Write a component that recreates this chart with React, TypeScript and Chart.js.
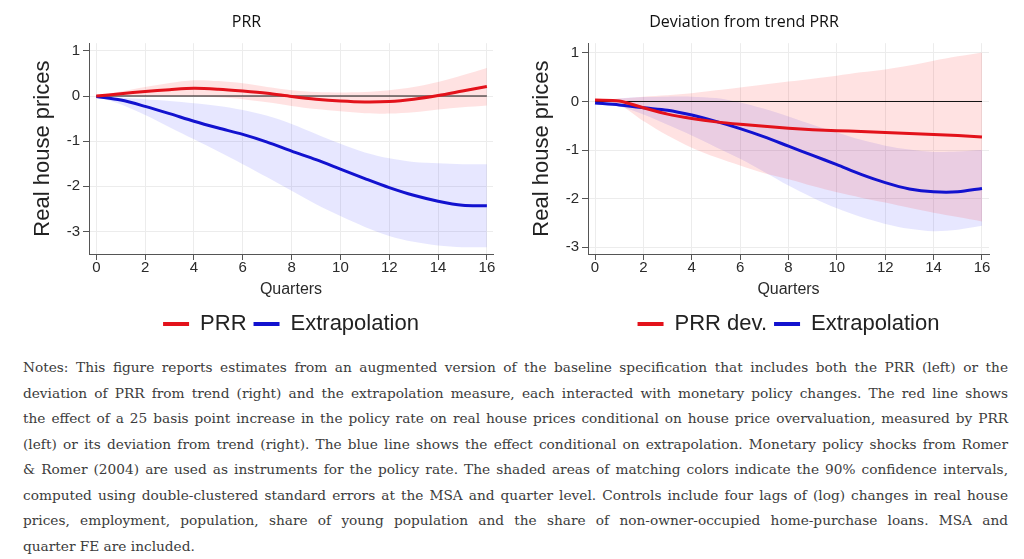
import React, { useEffect, useRef } from 'react';
import Chart from 'chart.js/auto';

// --- Data ---
const quarters = [0, 1, 2, 3, 4, 5, 6, 7, 8, 9, 10, 11, 12, 13, 14, 15, 16];
const xTicks = [0, 2, 4, 6, 8, 10, 12, 14, 16];
const yTicks = [1, 0, -1, -2, -3];
const baselineX = [0, 16];
const baselineY = [0, 0];

// left panel: PRR
const prrLine = [0.0, 0.05, 0.1, 0.14, 0.17, 0.15, 0.11, 0.06, -0.01, -0.07, -0.11, -0.13, -0.12, -0.07, 0.01, 0.11, 0.21];
const prrUpper = [0.01, 0.1, 0.2, 0.29, 0.35, 0.33, 0.28, 0.2, 0.13, 0.09, 0.08, 0.09, 0.13, 0.2, 0.31, 0.46, 0.62];
const prrLower = [-0.01, 0.0, -0.01, -0.01, -0.01, -0.03, -0.07, -0.14, -0.22, -0.29, -0.34, -0.38, -0.39, -0.36, -0.3, -0.25, -0.21];
const extraLine = [-0.01, -0.09, -0.23, -0.39, -0.56, -0.71, -0.85, -1.02, -1.22, -1.41, -1.62, -1.83, -2.03, -2.2, -2.33, -2.42, -2.43];
const extraUpper = [-0.01, -0.04, -0.07, -0.11, -0.16, -0.22, -0.31, -0.44, -0.62, -0.84, -1.06, -1.25, -1.38, -1.46, -1.49, -1.51, -1.51];
const extraLower = [-0.01, -0.18, -0.42, -0.69, -0.96, -1.23, -1.51, -1.8, -2.1, -2.4, -2.66, -2.9, -3.1, -3.23, -3.31, -3.35, -3.35];

// right panel: deviation from trend PRR
const devLine = [0.03, 0.01, -0.13, -0.26, -0.35, -0.42, -0.47, -0.51, -0.55, -0.58, -0.6, -0.62, -0.64, -0.66, -0.68, -0.7, -0.73];
const devUpper = [0.03, 0.06, 0.1, 0.13, 0.17, 0.23, 0.29, 0.35, 0.41, 0.47, 0.53, 0.6, 0.66, 0.74, 0.84, 0.93, 1.01];
const devLower = [0.02, -0.07, -0.4, -0.7, -0.95, -1.15, -1.32, -1.48, -1.6, -1.74, -1.87, -1.98, -2.08, -2.19, -2.29, -2.38, -2.47];
const extra2Line = [-0.03, -0.07, -0.13, -0.18, -0.28, -0.41, -0.56, -0.73, -0.92, -1.11, -1.3, -1.5, -1.67, -1.8, -1.86, -1.86, -1.79];
const extra2Upper = [-0.02, 0.06, 0.09, 0.1, 0.1, 0.07, -0.02, -0.15, -0.31, -0.48, -0.64, -0.79, -0.91, -0.99, -1.04, -1.03, -1.0];
const extra2Lower = [-0.04, -0.1, -0.27, -0.48, -0.7, -0.94, -1.18, -1.45, -1.73, -1.98, -2.2, -2.38, -2.52, -2.62, -2.67, -2.64, -2.56];

const notesLines = [
  'Notes: This figure reports estimates from an augmented version of the baseline specification that includes both the PRR (left) or the',
  'deviation of PRR from trend (right) and the extrapolation measure, each interacted with monetary policy changes. The red line shows',
  'the effect of a 25 basis point increase in the policy rate on real house prices conditional on house price overvaluation, measured by PRR',
  '(left) or its deviation from trend (right). The blue line shows the effect conditional on extrapolation. Monetary policy shocks from Romer',
  '& Romer (2004) are used as instruments for the policy rate. The shaded areas of matching colors indicate the 90% confidence intervals,',
  'computed using double-clustered standard errors at the MSA and quarter level. Controls include four lags of (log) changes in real house',
  'prices, employment, population, share of young population and the share of non-owner-occupied home-purchase loans. MSA and',
  'quarter FE are included.',
];

const RED = '#e3121b';
const BLUE = '#1212cf';
const RED_BAND = 'rgba(255, 30, 30, 0.13)';
const BLUE_BAND = 'rgba(40, 40, 255, 0.11)';
const SANS = "'Liberation Sans', Arial, sans-serif";

const pts = (ys) => ys.map((y, i) => ({ x: quarters[i], y }));

function PanelChart({ title, redLabel, red, redUp, redLo, blue, blueUp, blueLo, xMin, xMax, yMin, yMax, width, height, rightPad }) {
  const chartRef = useRef(null);
  const chartInstanceRef = useRef(null);

  useEffect(() => {
    if (!chartRef.current) return;
    if (chartInstanceRef.current) chartInstanceRef.current.destroy();

    const lineDs = (label, data, color) => ({
      label, data: pts(data), borderColor: color, backgroundColor: color,
      borderWidth: 3, pointRadius: 0, tension: 0.3, fill: false,
    });
    const bandDs = (label, data, color, fill) => ({
      label, data: pts(data), borderWidth: 0, borderColor: 'transparent',
      backgroundColor: color, pointRadius: 0, tension: 0.3, fill,
    });

    const config = {
      type: 'line',
      data: {
        datasets: [
          lineDs(redLabel, red, RED),
          lineDs('Extrapolation', blue, BLUE),
          {
            label: 'zero', data: baselineX.map((x, i) => ({ x, y: baselineY[i] })),
            borderColor: '#111', borderWidth: 1, pointRadius: 0, fill: false,
          },
          bandDs('redUp', redUp, RED_BAND, false),
          bandDs('redLo', redLo, RED_BAND, '-1'),
          bandDs('blueUp', blueUp, BLUE_BAND, false),
          bandDs('blueLo', blueLo, BLUE_BAND, '-1'),
        ],
      },
      options: {
        responsive: false,
        animation: false,
        layout: { padding: { left: 0, right: rightPad, top: 0, bottom: 4 } },
        scales: {
          x: {
            type: 'linear', min: xMin, max: xMax,
            afterBuildTicks: (axis) => { axis.ticks = xTicks.map((v) => ({ value: v })); },
            afterFit: (scale) => { scale.height = 52; },
            grid: { color: '#ececec', tickColor: '#555', tickLength: 6, drawTicks: true },
            border: { display: true, color: '#555', width: 1 },
            ticks: { font: { family: SANS, size: 15, lineHeight: 1 }, color: '#2a2a2a', padding: 0, maxRotation: 0 },
            title: { display: true, text: 'Quarters', font: { family: SANS, size: 16, lineHeight: 1.2 }, color: '#2a2a2a', padding: { top: 0, bottom: 7 } },
          },
          y: {
            min: yMin, max: yMax,
            afterBuildTicks: (axis) => { axis.ticks = yTicks.map((v) => ({ value: v })); },
            afterFit: (scale) => { scale.width = 89; },
            grid: { color: '#ececec', tickColor: '#555', tickLength: 6, drawTicks: true },
            border: { display: true, color: '#555', width: 1 },
            ticks: { font: { family: SANS, size: 15, lineHeight: 1 }, color: '#2a2a2a', padding: 3 },
            title: { display: true, text: 'Real house prices', font: { family: SANS, size: 22, lineHeight: 1.2 }, color: '#222', padding: { top: 30, bottom: 0 } },
          },
        },
        plugins: {
          title: {
            display: true, text: title, color: '#111',
            font: { family: "'Open Sans', sans-serif", size: 16, weight: 'normal', lineHeight: 1.2 },
            padding: { top: 13, bottom: 11 },
          },
          legend: {
            display: true, position: 'bottom', fullSize: false,
            labels: {
              usePointStyle: true, pointStyle: 'line', pointStyleWidth: 26,
              font: { family: SANS, size: 22 }, color: '#222', padding: 7,
              generateLabels: (chart) => Chart.defaults.plugins.legend.labels
                .generateLabels(chart)
                .filter((item) => item.datasetIndex < 2)
                .map((item) => ({ ...item, lineWidth: 4 })),
            },
          },
          tooltip: { enabled: false },
        },
      },
    };

    chartInstanceRef.current = new Chart(chartRef.current, config);
    return () => {
      if (chartInstanceRef.current) chartInstanceRef.current.destroy();
    };
  }, []);

  return <canvas ref={chartRef} width={width} height={height} style={{ width, height, display: 'block' }}></canvas>;
}

export default function App() {
  return (
    <div style={{ position: 'absolute', left: 0, top: 0, width: 1024, height: 559, background: '#fff', overflow: 'hidden' }}>
      <div style={{ position: 'absolute', left: 0, top: 0 }}>
        <PanelChart
          title="PRR" redLabel="PRR"
          red={prrLine} redUp={prrUpper} redLo={prrLower}
          blue={extraLine} blueUp={extraUpper} blueLo={extraLower}
          xMin={-0.3} xMax={16.25} yMin={-3.5} yMax={1.17}
          width={526} height={349} rightPad={33}
        />
      </div>
      <div style={{ position: 'absolute', left: 499, top: 0 }}>
        <PanelChart
          title="Deviation from trend PRR" redLabel="PRR dev."
          red={devLine} redUp={devUpper} redLo={devLower}
          blue={extra2Line} blueUp={extra2Upper} blueLo={extra2Lower}
          xMin={-0.29} xMax={16.29} yMin={-3.14} yMax={1.2}
          width={522} height={349} rightPad={32}
        />
      </div>
      <div style={{ position: 'absolute', left: 23, top: 355, width: 985, fontFamily: "'DejaVu Serif', serif", fontSize: 13.7, lineHeight: '25.5px', color: '#3b3b3b' }}>
        {notesLines.map((line, i) => (
          <div key={i} style={{ textAlign: 'justify', textAlignLast: i < notesLines.length - 1 ? 'justify' : 'left' }}>{line}</div>
        ))}
      </div>
    </div>
  );
}
